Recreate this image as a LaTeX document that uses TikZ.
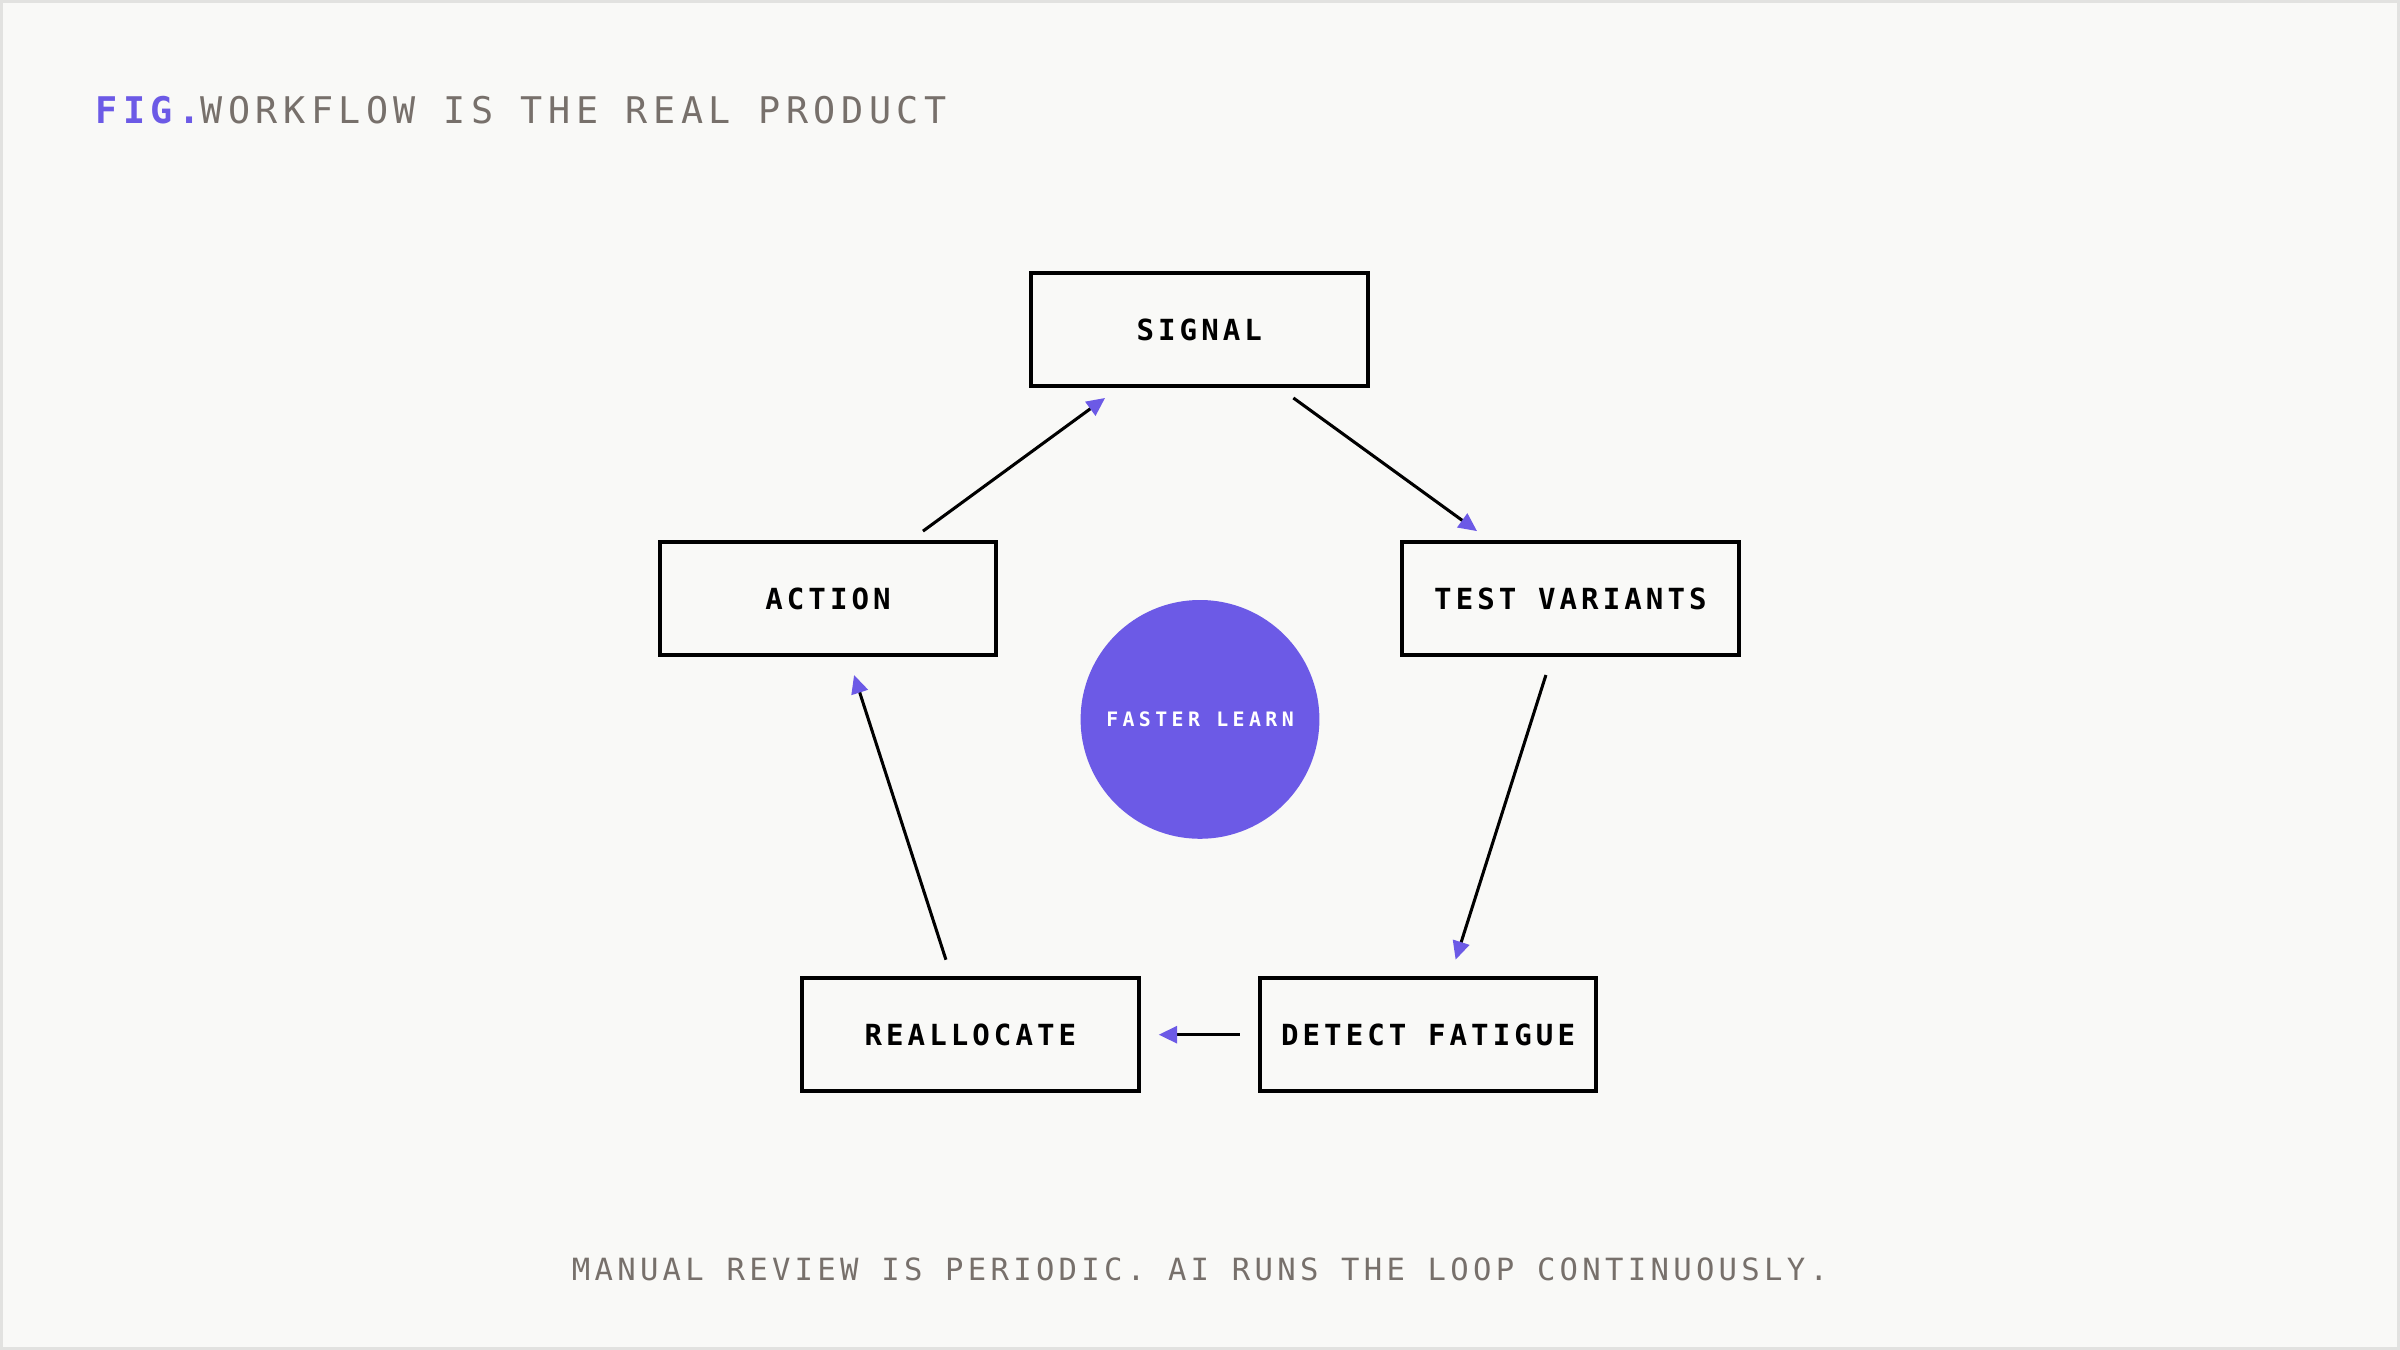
\documentclass[tikz,border=0pt]{standalone}
\usepackage{fontspec}
\usetikzlibrary{arrows.meta}
\newfontfamily\monoA[LetterSpace=15]{DejaVu Sans Mono}
\newfontfamily\monoB[LetterSpace=14]{DejaVu Sans Mono}
\newfontfamily\monoC[LetterSpace=22]{DejaVu Sans Mono}
\definecolor{bg}{HTML}{F9F9F7}
\definecolor{accent}{HTML}{6C5AE6}
\definecolor{txtgray}{HTML}{77706B}
\definecolor{frame}{HTML}{E2E2E0}
\begin{document}
\begin{tikzpicture}[x=0.5pt,y=-0.5pt,
  stepbox/.style={draw=black,line width=1.3pt,fill=bg,minimum width=110pt,minimum height=37pt,inner sep=0pt,font=\monoB\fontsize{9.5}{11}\selectfont\bfseries},
  conn/.style={line width=1pt,-{Triangle[color=accent,length=6pt,width=5.5pt]}}]
\fill[bg] (0,0) rectangle (1568,882);
\draw[frame,line width=1pt] (1,1) rectangle (1567,881);
\useasboundingbox (0,0) rectangle (1568,882);
\node[anchor=west,inner sep=0pt,font=\monoA\fontsize{12}{14}\selectfont] (title) at (62,72) {\textcolor{accent}{\bfseries FIG.}\textcolor{txtgray}{ WORKFLOW IS THE REAL PRODUCT}};
\node[stepbox] (sig) at (783.5,215.5) {SIGNAL};
\node[stepbox] (act) at (541,391) {ACTION};
\node[stepbox] (tv) at (1026,391) {TEST VARIANTS};
\node[stepbox] (re) at (634,676) {REALLOCATE};
\node[stepbox] (df) at (933,676) {DETECT FATIGUE};
\node[circle,fill=accent,minimum size=78pt,inner sep=0pt,text=white,font=\monoC\fontsize{6.5}{8}\selectfont\bfseries] (c) at (784,470) {FASTER LEARN};
\coordinate (a1) at (603,347); \coordinate (b1) at (722,260);
\coordinate (a2) at (845,260); \coordinate (b2) at (965,347);
\coordinate (a3) at (1010,441); \coordinate (b3) at (951,627);
\coordinate (a4) at (810,676); \coordinate (b4) at (757,676);
\coordinate (a5) at (618,627); \coordinate (b5) at (558,441);
\draw[conn] (a1) -- (b1);
\draw[conn] (a2) -- (b2);
\draw[conn] (a3) -- (b3);
\draw[conn] (a4) -- (b4);
\draw[conn] (a5) -- (b5);
\node[inner sep=0pt,text=txtgray,font=\monoB\fontsize{10}{12}\selectfont] (foot) at (784,829) {MANUAL REVIEW IS PERIODIC. AI RUNS THE LOOP CONTINUOUSLY.};
\end{tikzpicture}
\end{document}
